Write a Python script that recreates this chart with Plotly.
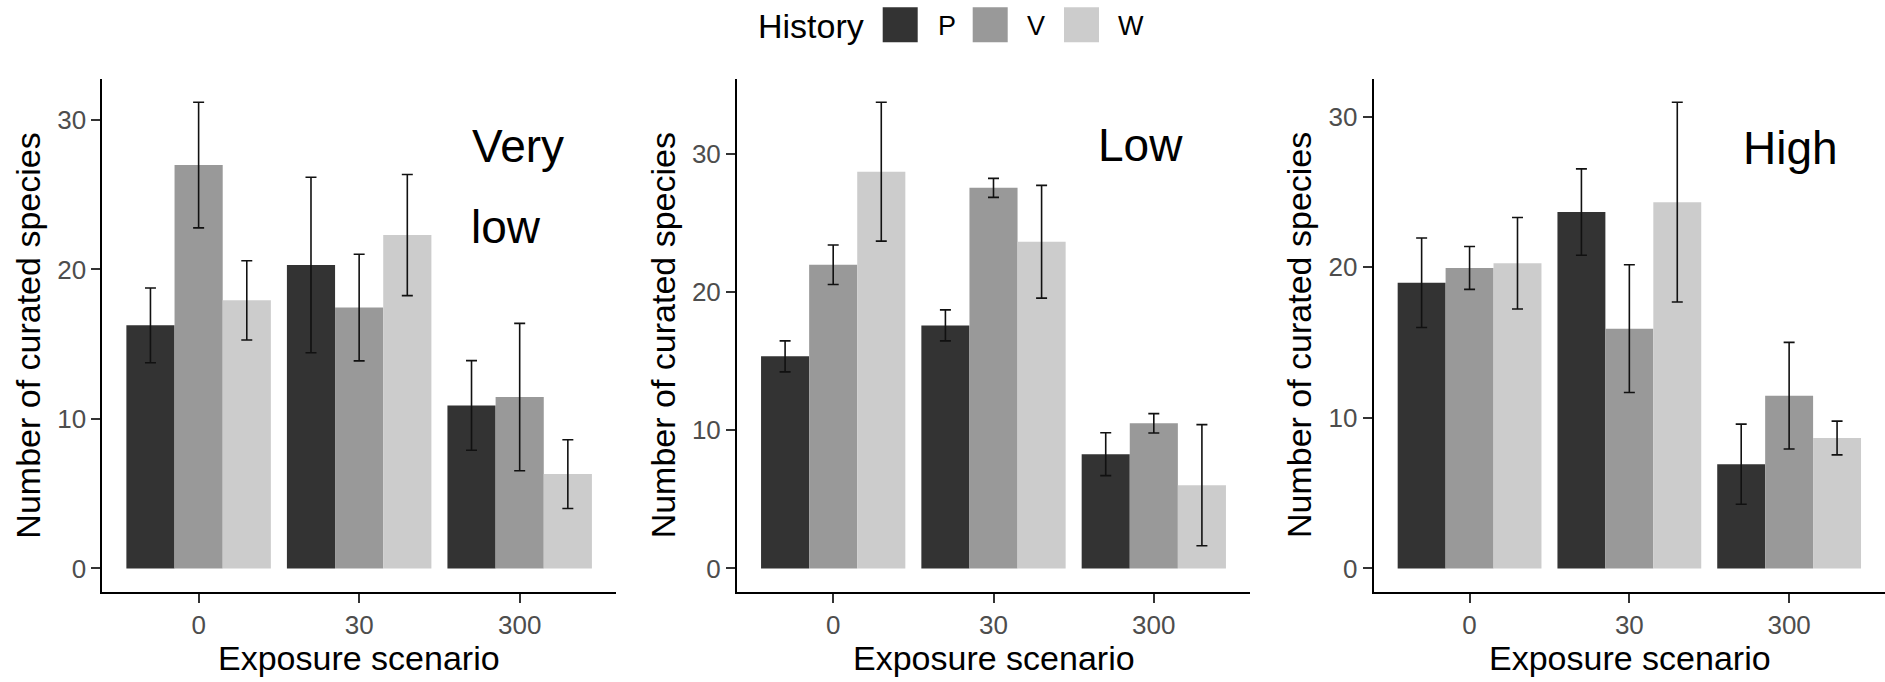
import plotly.graph_objects as go

W_PX, H_PX = 1885, 682

# ---------------- data ----------------
categories = ["0", "30", "300"]
histories = ["P", "V", "W"]
colors = {"P": "#333333", "V": "#999999", "W": "#CCCCCC"}

# Panel "Very low"
vl_P = [16.26, 20.30, 10.90]
vl_P_err = [2.50, 5.87, 3.00]
vl_V = [26.98, 17.45, 11.46]
vl_V_err = [4.20, 3.57, 4.93]
vl_W = [17.93, 22.30, 6.31]
vl_W_err = [2.65, 4.05, 2.30]

# Panel "Low"
lo_P = [15.34, 17.58, 8.26]
lo_P_err = [1.12, 1.12, 1.55]
lo_V = [21.97, 27.53, 10.50]
lo_V_err = [1.43, 0.69, 0.70]
lo_W = [28.70, 23.63, 6.02]
lo_W_err = [5.02, 4.08, 4.38]

# Panel "High"
hi_P = [18.97, 23.66, 6.92]
hi_P_err = [2.97, 2.87, 2.66]
hi_V = [19.95, 15.92, 11.47]
hi_V_err = [1.42, 4.24, 3.54]
hi_W = [20.26, 24.32, 8.66]
hi_W_err = [3.04, 6.63, 1.12]

y_ticks = [0, 10, 20, 30]
x_title = "Exposure scenario"
y_title = "Number of curated species"
legend_title = "History"

panels = [
    {"label": ["Very", "low"], "P": (vl_P, vl_P_err), "V": (vl_V, vl_V_err), "W": (vl_W, vl_W_err)},
    {"label": ["Low"], "P": (lo_P, lo_P_err), "V": (lo_V, lo_V_err), "W": (lo_W, lo_W_err)},
    {"label": ["High"], "P": (hi_P, hi_P_err), "V": (hi_V, hi_V_err), "W": (hi_W, hi_W_err)},
]

# ---------------- layout geometry (pixels) ----------------
FONT = "Liberation Sans, Arial, sans-serif"
x_domains_px = [(102.3, 616.0), (737.0, 1250.0), (1373.7, 1885.0)]
y_top_px, y_bot_px = 79.0, 591.7
label_pos_px = [[(469.5, 161.7), (469.0, 242.7)], [(1095.5, 160.5)], [(1740.5, 164.0)]]


def px(x):
    return x / W_PX


def py(y):
    return 1 - y / H_PX


fig = go.Figure()
annotations = []
for i, pan in enumerate(panels):
    xa = "x" if i == 0 else f"x{i+1}"
    ya = "y" if i == 0 else f"y{i+1}"
    ymax = 0
    for h in histories:
        vals, errs = pan[h]
        ymax = max(ymax, max(v + e for v, e in zip(vals, errs)))
        fig.add_trace(go.Bar(
            x=categories, y=vals, name=h, xaxis=xa, yaxis=ya,
            marker=dict(color=colors[h], line=dict(width=0)),
            error_y=dict(type="data", array=errs, visible=True,
                         color="#111111", thickness=1.6, width=5.5),
            showlegend=False,
        ))
    d0, d1 = x_domains_px[i]
    axkey = "xaxis" if i == 0 else f"xaxis{i+1}"
    aykey = "yaxis" if i == 0 else f"yaxis{i+1}"
    fig.layout[axkey] = dict(
        domain=[px(d0), min(1.0, px(d1))], anchor=ya, type="category",
        range=[-0.6, 2.6], showline=True, linecolor="black", linewidth=2,
        ticks="outside", ticklen=9, tickwidth=2, tickcolor="#333333",
        tickfont=dict(family=FONT, size=26, color="#4D4D4D"),
        showgrid=False, zeroline=False, fixedrange=True,
    )
    fig.layout[aykey] = dict(
        domain=[py(y_bot_px), py(y_top_px)], anchor=xa,
        range=[-0.05 * ymax, 1.05 * ymax], tickvals=y_ticks,
        showline=True, linecolor="black", linewidth=2,
        ticks="outside", ticklen=9, tickwidth=2, tickcolor="#333333",
        tickfont=dict(family=FONT, size=26, color="#4D4D4D"),
        showgrid=False, zeroline=False, fixedrange=True,
    )
    # axis titles
    span = d1 - d0 if i < 2 else (1373.7 + 3.2 * 160.3) - d0
    xc = d0 + span * (1.6 / 3.2)
    annotations.append(dict(text=x_title, x=px(xc), y=py(658), xref="paper", yref="paper",
                            showarrow=False, xanchor="center", yanchor="middle",
                            font=dict(family=FONT, size=34, color="black")))
    annotations.append(dict(text=y_title, x=px(d0 - 74), y=py((y_top_px + y_bot_px) / 2),
                            xref="paper", yref="paper", textangle=-90,
                            showarrow=False, xanchor="center", yanchor="middle",
                            font=dict(family=FONT, size=34, color="black")))
    for txt, (lx, base) in zip(pan["label"], label_pos_px[i]):
        annotations.append(dict(text=txt, x=px(lx), y=py(base - 0.34 * 46), xref="paper", yref="paper",
                                showarrow=False, xanchor="left", yanchor="middle",
                                font=dict(family=FONT, size=46, color="black")))

# ---------------- manual legend ----------------
shapes = []
legend_boxes = {"P": (882.7, 937.3), "V": (972.7, 1026.0), "W": (1064.0, 1116.7)}
annotations.append(dict(text=legend_title, x=px(756), y=py(26), xref="paper", yref="paper",
                        showarrow=False, xanchor="left", yanchor="middle",
                        font=dict(family=FONT, size=34, color="black")))
for h in histories:
    bx, lx = legend_boxes[h]
    shapes.append(dict(type="rect", xref="paper", yref="paper",
                       x0=px(bx), x1=px(bx + 35), y0=py(42.3), y1=py(7.3),
                       fillcolor=colors[h], line=dict(width=0)))
    annotations.append(dict(text=h, x=px(lx - 1), y=py(26), xref="paper", yref="paper",
                            showarrow=False, xanchor="left", yanchor="middle",
                            font=dict(family=FONT, size=27, color="black")))

fig.update_layout(
    width=W_PX, height=H_PX,
    margin=dict(l=0, r=0, t=0, b=0),
    paper_bgcolor="white", plot_bgcolor="white",
    barmode="group", bargap=0.1, bargroupgap=0,
    annotations=annotations, shapes=shapes,
    font=dict(family=FONT),
)

fig.write_html("out.html")
